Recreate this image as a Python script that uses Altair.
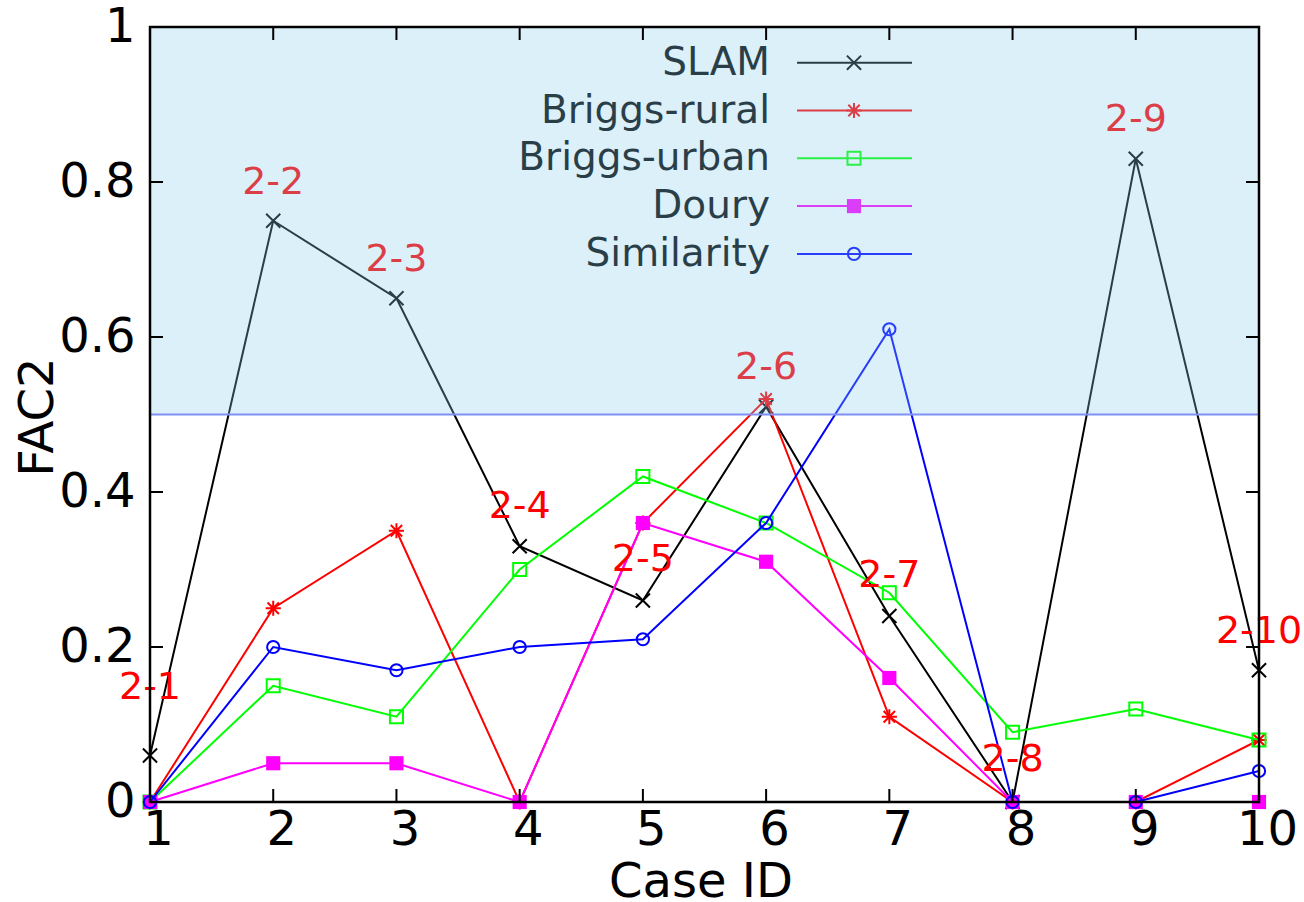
import altair as alt
import pandas as pd

# FAC2 per case for each dispersion model
cases = list(range(1, 11))
series_names = ["SLAM", "Briggs-rural", "Briggs-urban", "Doury", "Similarity"]
slam = [0.06, 0.75, 0.65, 0.33, 0.26, 0.51, 0.24, 0.00, 0.83, 0.17]
briggs_rural = [0.00, 0.25, 0.35, 0.00, 0.36, 0.52, 0.11, 0.00, 0.00, 0.08]
briggs_urban = [0.00, 0.15, 0.11, 0.30, 0.42, 0.36, 0.27, 0.09, 0.12, 0.08]
doury = [0.00, 0.05, 0.05, 0.00, 0.36, 0.31, 0.16, 0.00, 0.00, 0.00]
similarity = [0.00, 0.20, 0.17, 0.20, 0.21, 0.36, 0.61, 0.00, 0.00, 0.04]

# case tags and the FAC2 height at which each tag is written
case_tags = ["2-1", "2-2", "2-3", "2-4", "2-5", "2-6", "2-7", "2-8", "2-9", "2-10"]
tag_y = [0.147, 0.799, 0.70, 0.381, 0.312, 0.56, 0.292, 0.054, 0.88, 0.219]

threshold = 0.5
y_ticks = [0, 0.2, 0.4, 0.6, 0.8, 1.0]

W, H = 1109, 775
FONT = "DejaVu Sans"

colors = ["#000000", "#ff0000", "#00ff00", "#ff00ff", "#0000ff"]
shapes = [
    "M-1,-1L1,1M-1,1L1,-1",
    "M-1,0L1,0M0,-1L0,1M-0.75,-0.75L0.75,0.75M-0.75,0.75L0.75,-0.75",
    "square",
    "square",
    "circle",
]
filled = [False, False, False, True, False]
sizes = [200, 230, 170, 200, 150]
values = [slam, briggs_rural, briggs_urban, doury, similarity]

xs = alt.Scale(domain=[1, 10], nice=False, zero=False)
ys = alt.Scale(domain=[0, 1], nice=False, zero=False)

x_axis = alt.Axis(
    values=cases, format="d", ticks=False, domain=False, grid=False,
    labelFont=FONT, labelFontSize=48, labelColor="#000000", labelPadding=4,
    labelFlush=False, labelOffset=8, labelOverlap=False,
    title="Case ID", titleFont=FONT, titleFontSize=48, titleFontWeight="normal",
    titleColor="#000000", titleBaseline="alphabetic", titleY=94, titleX=W / 2 - 4,
)
y_axis = alt.Axis(
    values=y_ticks, ticks=False, domain=False, grid=False,
    labelFont=FONT, labelFontSize=48, labelColor="#000000", labelPadding=15,
    labelFlush=False, labelOverlap=False,
    labelExpr="datum.value == 0 ? '0' : datum.value == 1 ? '1' : format(datum.value, '.1f')",
    title="FAC2", titleFont=FONT, titleFontSize=48, titleFontWeight="normal",
    titleColor="#000000", titleX=-112, titleY=H / 2 + 2, titleAlign="center",
    titleBaseline="middle", titleAngle=-90,
)

x_enc = alt.X("case:Q", scale=xs, axis=x_axis)
y_enc = alt.Y("FAC2:Q", scale=ys, axis=y_axis)

layers = []

# model curves with their markers
for name, vals, col, shp, fl, sz in zip(series_names, values, colors, shapes, filled, sizes):
    d = pd.DataFrame({"case": cases, "FAC2": vals, "model": name})
    base = alt.Chart(d)
    layers.append(base.mark_line(color=col, strokeWidth=2).encode(x=x_enc, y=y_enc))
    if fl:
        pts = base.mark_point(shape=shp, size=sz, filled=True, fill=col, opacity=1)
    else:
        pts = base.mark_point(shape=shp, size=sz, filled=False, stroke=col,
                              strokeWidth=2, opacity=1)
    layers.append(pts.encode(x=x_enc, y=y_enc))

# case tags
tags = pd.DataFrame({"case": cases, "FAC2": tag_y, "tag": case_tags})
layers.append(
    alt.Chart(tags).mark_text(font=FONT, fontSize=38, color="#ff0000",
                              align="center", baseline="middle")
    .encode(x=x_enc, y=y_enc, text="tag:N")
)

# key, right-aligned names with a sample line and marker
one = pd.DataFrame({"k": [0]})
for i, (name, col, shp, fl, sz) in enumerate(zip(series_names, colors, shapes, filled, sizes)):
    yy = 35.7 + 47.8 * i
    kb = alt.Chart(one)
    layers.append(
        kb.mark_text(text=name, font=FONT, fontSize=39, color="#000000",
                     align="right", baseline="middle")
        .encode(x=alt.value(620), y=alt.value(yy))
    )
    layers.append(
        kb.mark_rule(color=col, strokeWidth=2)
        .encode(x=alt.value(647), x2=alt.value(762), y=alt.value(yy))
    )
    if fl:
        km = kb.mark_point(shape=shp, size=sz, filled=True, fill=col, opacity=1)
    else:
        km = kb.mark_point(shape=shp, size=sz, filled=False, stroke=col,
                           strokeWidth=2, opacity=1)
    layers.append(km.encode(x=alt.value(704), y=alt.value(yy)))

# acceptance band FAC2 >= 0.5
band = pd.DataFrame({"FAC2": [threshold], "top": [1.0]})
layers.append(
    alt.Chart(band).mark_rect(color="#87ceeb", opacity=0.3)
    .encode(x=alt.value(0), x2=alt.value(W), y=y_enc, y2="top:Q")
)
layers.append(
    alt.Chart(band).mark_rule(color="#8090f5", strokeWidth=2)
    .encode(x=alt.value(0), x2=alt.value(W), y=y_enc)
)

# frame and inward ticks on all four sides
layers.append(
    alt.Chart(one).mark_rect(fill=None, stroke="#000000", strokeWidth=2.5)
    .encode(x=alt.value(0), x2=alt.value(W), y=alt.value(0), y2=alt.value(H))
)
yt = pd.DataFrame({"FAC2": y_ticks})
layers.append(alt.Chart(yt).mark_rule(color="#000000", strokeWidth=2)
              .encode(x=alt.value(0), x2=alt.value(13), y=y_enc))
layers.append(alt.Chart(yt).mark_rule(color="#000000", strokeWidth=2)
              .encode(x=alt.value(W - 13), x2=alt.value(W), y=y_enc))
xt = pd.DataFrame({"case": cases})
layers.append(alt.Chart(xt).mark_rule(color="#000000", strokeWidth=2)
              .encode(x=x_enc, y=alt.value(H), y2=alt.value(H - 13)))
layers.append(alt.Chart(xt).mark_rule(color="#000000", strokeWidth=2)
              .encode(x=x_enc, y=alt.value(0), y2=alt.value(13)))

chart = (
    alt.layer(*layers)
    .properties(
        width=W, height=H,
        autosize=alt.AutoSizeParams(type="none"),
        padding={"left": 150, "top": 27, "right": 45, "bottom": 100},
        background="#ffffff",
    )
    .configure_view(stroke=None)
)

chart.save("out.html", embed_options={"renderer": "svg", "actions": False})
